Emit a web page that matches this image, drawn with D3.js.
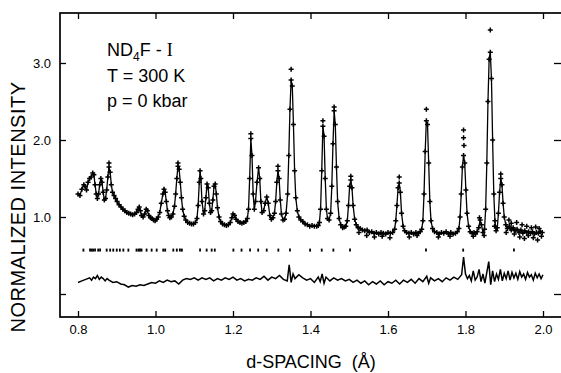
<!DOCTYPE html>
<html>
<head>
<meta charset="utf-8">
<script src="https://cdn.jsdelivr.net/npm/d3@7/dist/d3.min.js"></script>
<style>
  body { margin: 0; background: #fff; }
  svg text { font-family: 'Liberation Sans', Arial, Helvetica, sans-serif; fill: #000; }
</style>
</head>
<body>
<div id="chart"></div>
<script>
// observed / calculated profile (d in angstrom, normalized intensity)
var obsD = [
  0.800, 0.805, 0.810, 0.815, 0.818, 0.822, 0.826, 0.830, 0.834, 0.838,
  0.841, 0.844, 0.847, 0.850, 0.853, 0.856, 0.859, 0.862, 0.865, 0.868,
  0.871, 0.874, 0.877, 0.880, 0.883, 0.886, 0.889, 0.893, 0.897, 0.901,
  0.906, 0.911, 0.916, 0.921, 0.926, 0.931, 0.936, 0.941, 0.946, 0.951,
  0.955, 0.958, 0.961, 0.964, 0.968, 0.972, 0.976, 0.979, 0.983, 0.987,
  0.991, 0.995, 0.999, 1.003, 1.007, 1.011, 1.015, 1.019, 1.022, 1.025,
  1.028, 1.031, 1.034, 1.037, 1.041, 1.045, 1.049, 1.052, 1.055, 1.058,
  1.061, 1.064, 1.067, 1.070, 1.074, 1.078, 1.083, 1.088, 1.093, 1.098,
  1.103, 1.107, 1.110, 1.113, 1.115, 1.117, 1.120, 1.124, 1.127, 1.130,
  1.133, 1.136, 1.139, 1.142, 1.145, 1.148, 1.151, 1.154, 1.157, 1.160,
  1.164, 1.168, 1.173, 1.178, 1.183, 1.188, 1.193, 1.197, 1.200, 1.204,
  1.208, 1.213, 1.218, 1.223, 1.228, 1.233, 1.237, 1.240, 1.243, 1.246,
  1.249, 1.252, 1.255, 1.258, 1.262, 1.266, 1.269, 1.272, 1.275, 1.279,
  1.283, 1.287, 1.291, 1.295, 1.299, 1.303, 1.307, 1.310, 1.313, 1.316,
  1.319, 1.322, 1.325, 1.329, 1.333, 1.337, 1.341, 1.344, 1.347, 1.350,
  1.353, 1.356, 1.359, 1.362, 1.366, 1.370, 1.375, 1.380, 1.386, 1.392,
  1.398, 1.404, 1.410, 1.416, 1.420, 1.423, 1.426, 1.429, 1.432, 1.435,
  1.438, 1.441, 1.444, 1.448, 1.452, 1.455, 1.458, 1.461, 1.464, 1.467,
  1.470, 1.474, 1.478, 1.483, 1.487, 1.491, 1.495, 1.498, 1.501, 1.504,
  1.507, 1.510, 1.514, 1.518, 1.523, 1.528, 1.534, 1.540, 1.546, 1.552,
  1.558, 1.564, 1.570, 1.576, 1.582, 1.588, 1.594, 1.600, 1.606, 1.612,
  1.617, 1.620, 1.623, 1.626, 1.629, 1.632, 1.635, 1.639, 1.643, 1.648,
  1.654, 1.660, 1.666, 1.672, 1.678, 1.683, 1.687, 1.690, 1.693, 1.696,
  1.699, 1.702, 1.705, 1.708, 1.711, 1.715, 1.720, 1.726, 1.732, 1.738,
  1.744, 1.750, 1.756, 1.762, 1.768, 1.774, 1.779, 1.783, 1.786, 1.789,
  1.792, 1.795, 1.798, 1.801, 1.804, 1.808, 1.812, 1.817, 1.822, 1.826,
  1.830, 1.834, 1.838, 1.841, 1.845, 1.849, 1.852, 1.855, 1.858, 1.861,
  1.864, 1.867, 1.870, 1.873, 1.876, 1.879, 1.882, 1.885, 1.888, 1.891,
  1.894, 1.897, 1.900, 1.904, 1.908, 1.913, 1.918, 1.923, 1.928, 1.933,
  1.938, 1.943, 1.948, 1.953, 1.958, 1.963, 1.968, 1.973, 1.978, 1.983,
  1.988, 1.993, 1.998
]
var obsI = [
  1.30, 1.28, 1.36, 1.42, 1.40, 1.35, 1.45, 1.50, 1.52, 1.57,
  1.55, 1.42, 1.30, 1.24, 1.30, 1.42, 1.50, 1.45, 1.32, 1.22,
  1.24, 1.35, 1.52, 1.65, 1.58, 1.42, 1.32, 1.28, 1.24, 1.20,
  1.16, 1.13, 1.10, 1.08, 1.06, 1.05, 1.04, 1.03, 1.04, 1.06,
  1.10, 1.13, 1.08, 1.02, 1.00, 1.04, 1.10, 1.08, 1.02, 0.99,
  0.98, 0.96, 0.95, 0.97, 1.00, 1.06, 1.18, 1.30, 1.36, 1.32,
  1.20, 1.08, 1.02, 0.99, 1.00, 1.04, 1.14, 1.30, 1.50, 1.66,
  1.62, 1.45, 1.25, 1.10, 1.01, 0.96, 0.93, 0.92, 0.91, 0.91,
  0.93, 0.98, 1.15, 1.45, 1.60, 1.50, 1.20, 1.04, 1.08, 1.25,
  1.43, 1.38, 1.18, 1.06, 1.08, 1.22, 1.40, 1.43, 1.30, 1.12,
  1.00, 0.94, 0.91, 0.90, 0.89, 0.90, 0.93, 0.99, 1.04, 1.02,
  0.97, 0.94, 0.93, 0.92, 0.93, 0.94, 0.98, 1.10, 1.50, 2.02,
  1.80, 1.30, 1.10, 1.20, 1.45, 1.64, 1.50, 1.20, 1.06, 1.08,
  1.18, 1.26, 1.18, 1.02, 0.97, 0.99, 1.05, 1.20, 1.45, 1.60,
  1.50, 1.22, 1.04, 0.96, 0.97, 1.05, 1.30, 1.80, 2.40, 2.78,
  2.70, 2.20, 1.60, 1.25, 1.08, 1.00, 0.96, 0.94, 0.91, 0.90,
  0.88, 0.89, 0.88, 0.88, 0.89, 0.93, 1.10, 1.60, 2.18, 2.05,
  1.50, 1.10, 0.98, 0.96, 1.05, 1.40, 1.95, 2.38, 2.20, 1.65,
  1.20, 0.98, 0.90, 0.86, 0.87, 0.88, 0.95, 1.15, 1.40, 1.48,
  1.38, 1.15, 0.97, 0.90, 0.86, 0.85, 0.83, 0.82, 0.83, 0.80,
  0.81, 0.79, 0.80, 0.78, 0.80, 0.79, 0.78, 0.80, 0.79, 0.80,
  0.84, 0.95, 1.15, 1.38, 1.44, 1.32, 1.05, 0.88, 0.82, 0.80,
  0.79, 0.80, 0.78, 0.80, 0.79, 0.81, 0.84, 0.95, 1.30, 1.85,
  2.25, 2.20, 1.70, 1.20, 0.95, 0.85, 0.81, 0.80, 0.78, 0.80,
  0.79, 0.81, 0.78, 0.80, 0.78, 0.79, 0.81, 0.85, 1.00, 1.30,
  1.65, 1.80, 1.70, 1.35, 1.05, 0.88, 0.81, 0.79, 0.80, 0.78,
  0.81, 0.86, 0.96, 0.90, 0.80, 0.84, 1.10, 1.70, 2.50, 3.05,
  3.14, 2.80, 2.00, 1.30, 0.95, 0.82, 0.86, 1.05, 1.32, 1.50,
  1.42, 1.18, 1.00, 0.90, 0.85, 0.88, 0.83, 0.86, 0.82, 0.84,
  0.80, 0.83, 0.79, 0.82, 0.80, 0.81, 0.79, 0.81, 0.78, 0.80,
  0.79, 0.81, 0.80
]

// stray observed points (peak tops and background scatter)
var strayD = [0.880, 1.058, 1.246, 1.316, 1.350, 1.432, 1.461, 1.504, 1.629, 1.699,
  1.795, 1.795, 1.796, 1.864, 1.891, 1.525, 1.545, 1.565, 1.585, 1.605,
  1.655, 1.675, 1.730, 1.760, 1.820, 1.836, 1.848, 1.875, 1.905, 1.912,
  1.918, 1.926, 1.932, 1.940, 1.946, 1.952, 1.958, 1.962, 1.970, 1.975,
  1.981, 1.986, 1.990, 1.996]
var strayI = [1.70, 1.70, 2.08, 1.66, 2.92, 2.25, 2.43, 1.53, 1.52, 2.40,
  2.13, 2.03, 1.93, 3.43, 1.56, 0.80, 0.76, 0.74, 0.75, 0.73,
  0.74, 0.76, 0.74, 0.75, 0.75, 0.99, 0.76, 0.88, 0.80, 0.96,
  0.92, 0.78, 0.93, 0.74, 0.90, 0.72, 0.88, 0.76, 0.86, 0.73,
  0.87, 0.70, 0.85, 0.75]

// reflection positions
var reflD = [0.814, 0.831, 0.835, 0.839, 0.844, 0.852, 0.857, 0.874, 0.883, 0.891,
  0.900, 0.908, 0.917, 0.930, 0.951, 0.956, 0.960, 0.964, 0.977, 0.990,
  1.003, 1.020, 1.025, 1.046, 1.055, 1.063, 1.068, 1.115, 1.132, 1.145,
  1.153, 1.201, 1.222, 1.244, 1.265, 1.287, 1.317, 1.347, 1.399, 1.429,
  1.459, 1.502, 1.698, 1.794, 1.925]
var reflLevel = 0.57

// difference curve
var diffD = [
  0.800, 0.810, 0.820, 0.830, 0.835, 0.840, 0.845, 0.850, 0.855, 0.860,
  0.865, 0.870, 0.875, 0.880, 0.890, 0.900, 0.910, 0.920, 0.930, 0.940,
  0.950, 0.960, 0.970, 0.980, 0.990, 1.000, 1.010, 1.020, 1.030, 1.040,
  1.050, 1.060, 1.070, 1.080, 1.090, 1.100, 1.110, 1.120, 1.130, 1.140,
  1.150, 1.160, 1.170, 1.180, 1.190, 1.200, 1.210, 1.220, 1.230, 1.240,
  1.250, 1.260, 1.270, 1.280, 1.290, 1.300, 1.310, 1.320, 1.330, 1.340,
  1.345, 1.350, 1.355, 1.360, 1.370, 1.380, 1.390, 1.400, 1.410, 1.420,
  1.425, 1.430, 1.435, 1.440, 1.450, 1.460, 1.470, 1.480, 1.490, 1.500,
  1.510, 1.520, 1.530, 1.540, 1.550, 1.560, 1.570, 1.580, 1.590, 1.600,
  1.610, 1.620, 1.630, 1.640, 1.650, 1.660, 1.670, 1.680, 1.690, 1.700,
  1.705, 1.710, 1.720, 1.730, 1.740, 1.750, 1.760, 1.770, 1.780, 1.790,
  1.795, 1.800, 1.805, 1.810, 1.815, 1.820, 1.825, 1.830, 1.835, 1.840,
  1.845, 1.850, 1.855, 1.860, 1.865, 1.870, 1.875, 1.880, 1.885, 1.890,
  1.895, 1.900, 1.905, 1.910, 1.915, 1.920, 1.925, 1.930, 1.935, 1.940,
  1.945, 1.950, 1.955, 1.960, 1.965, 1.970, 1.975, 1.980, 1.985, 1.990,
  1.995, 2.000
]
var diffI = [
  0.15, 0.17, 0.19, 0.21, 0.18, 0.22, 0.20, 0.24, 0.19, 0.22,
  0.20, 0.17, 0.20, 0.18, 0.15, 0.16, 0.13, 0.12, 0.09, 0.11,
  0.10, 0.12, 0.11, 0.13, 0.15, 0.14, 0.17, 0.15, 0.18, 0.16,
  0.17, 0.13, 0.18, 0.20, 0.19, 0.21, 0.18, 0.21, 0.19, 0.21,
  0.17, 0.20, 0.18, 0.21, 0.19, 0.22, 0.18, 0.20, 0.17, 0.19,
  0.18, 0.21, 0.19, 0.23, 0.18, 0.22, 0.20, 0.24, 0.19, 0.17,
  0.38, 0.15, 0.26, 0.20, 0.25, 0.21, 0.18, 0.20, 0.15, 0.22,
  0.16, 0.26, 0.14, 0.22, 0.17, 0.21, 0.18, 0.20, 0.17, 0.19,
  0.15, 0.18, 0.14, 0.17, 0.12, 0.16, 0.13, 0.17, 0.12, 0.16,
  0.14, 0.18, 0.13, 0.18, 0.15, 0.19, 0.14, 0.20, 0.16, 0.23,
  0.14, 0.21, 0.17, 0.20, 0.16, 0.21, 0.18, 0.22, 0.19, 0.25,
  0.48, 0.26, 0.20, 0.24, 0.17, 0.30, 0.18, 0.22, 0.32, 0.16,
  0.26, 0.14, 0.28, 0.42, 0.12, 0.30, 0.16, 0.26, 0.19, 0.32,
  0.17, 0.27, 0.20, 0.30, 0.18, 0.28, 0.21, 0.27, 0.19, 0.29,
  0.22, 0.26, 0.19, 0.28, 0.22, 0.25, 0.18, 0.27, 0.21, 0.26,
  0.20, 0.25
]

var xTicks = [0.8, 1.0, 1.2, 1.4, 1.6, 1.8, 2.0]
var yTicks = [0, 1, 2, 3]

// set the dimensions of the graph
var width = 561
var height = 373
var frame = { left: 60, top: 13, right: 561, bottom: 317 }

var svg = d3.select('#chart')
  .append('svg')
  .attr('width', width)
  .attr('height', height)

var x = d3.scaleLinear()
  .domain([0.8, 2.0])
  .range([78, 543])
var y = d3.scaleLinear()
  .domain([0, 3])
  .range([294, 63])

// frame + axes (ticks pointing inward)
svg.append('g')
  .attr('transform', 'translate(0,' + frame.bottom + ')')
  .call(d3.axisBottom(x).tickValues(xTicks).tickSizeInner(-6).tickSizeOuter(0)
    .tickPadding(8).tickFormat(d3.format('.1f')))
svg.append('g')
  .attr('transform', 'translate(0,' + frame.top + ')')
  .call(d3.axisTop(x).tickValues(xTicks).tickSizeInner(-6).tickSizeOuter(0).tickFormat(''))
svg.append('g')
  .attr('transform', 'translate(' + frame.left + ',0)')
  .call(d3.axisLeft(y).tickValues(yTicks).tickSizeInner(-6).tickSizeOuter(0)
    .tickPadding(9).tickFormat(function (d) { return d === 0 ? '' : d3.format('.1f')(d) }))
svg.append('g')
  .attr('transform', 'translate(' + frame.right + ',0)')
  .call(d3.axisRight(y).tickValues(yTicks).tickSizeInner(-7).tickSizeOuter(0).tickFormat(''))

svg.selectAll('.domain').remove()
svg.selectAll('.tick line').attr('stroke', '#000').attr('stroke-width', 1.3)
svg.selectAll('.tick text').attr('font-size', 13).attr('fill', '#000')
  .style('font-family', "'Liberation Sans', Arial, sans-serif")

svg.append('rect')
  .attr('x', frame.left)
  .attr('y', frame.top)
  .attr('width', frame.right - frame.left + 4)
  .attr('height', frame.bottom - frame.top)
  .attr('fill', 'none')
  .attr('stroke', '#000')
  .attr('stroke-width', 1.7)

// calculated profile
var prof = obsD.map(function (d, i) { return [d, obsI[i]] })
svg.append('path')
  .datum(prof)
  .attr('d', d3.line().x(function (d) { return x(d[0]) }).y(function (d) { return y(d[1]) }))
  .attr('fill', 'none')
  .attr('stroke', '#000')
  .attr('stroke-width', 1.3)

// observed points as small crosses
var pts = prof.concat(strayD.map(function (d, i) { return [d, strayI[i]] }))
svg.append('g')
  .selectAll('path')
  .data(pts)
  .enter()
  .append('path')
  .attr('d', function (d) {
    var px = x(d[0]); var py = y(d[1])
    return 'M' + (px - 2.5) + ',' + py + 'H' + (px + 2.5) + 'M' + px + ',' + (py - 2.5) + 'V' + (py + 2.5)
  })
  .attr('stroke', '#000')
  .attr('stroke-width', 1.5)

// reflection markers
svg.append('g')
  .selectAll('line')
  .data(reflD)
  .enter()
  .append('line')
  .attr('x1', function (d) { return x(d) })
  .attr('x2', function (d) { return x(d) })
  .attr('y1', y(reflLevel) - 1.5)
  .attr('y2', y(reflLevel) + 1.5)
  .attr('stroke', '#000')
  .attr('stroke-width', 1.8)

// difference curve
svg.append('path')
  .datum(diffD.map(function (d, i) { return [d, diffI[i]] }))
  .attr('d', d3.line().x(function (d) { return x(d[0]) }).y(function (d) { return y(d[1]) }))
  .attr('fill', 'none')
  .attr('stroke', '#000')
  .attr('stroke-width', 1.5)

// sample annotation
var note = svg.append('g').attr('font-size', 18)
var t1 = note.append('text').attr('x', 107).attr('y', 56)
t1.append('tspan').text('ND')
t1.append('tspan').attr('font-size', 12).attr('dy', 5).text('4')
t1.append('tspan').attr('dy', -5).text('F - ')
t1.append('tspan').style('font-family', "'Liberation Serif', 'Times New Roman', serif").text('I')
note.append('text').attr('x', 107).attr('y', 82).text('T = 300 K')
note.append('text').attr('x', 107).attr('y', 107).text('p = 0 kbar')

// axis titles
svg.append('text')
  .attr('x', 311)
  .attr('y', 368)
  .attr('text-anchor', 'middle')
  .attr('font-size', 18)
  .attr('xml:space', 'preserve')
  .text('d-SPACING  (Å)')

svg.append('text')
  .attr('transform', 'translate(25,207) rotate(-90)')
  .attr('text-anchor', 'middle')
  .attr('font-size', 20)
  .attr('letter-spacing', 0.5)
  .text('NORMALIZED INTENSITY')
</script>
</body>
</html>
